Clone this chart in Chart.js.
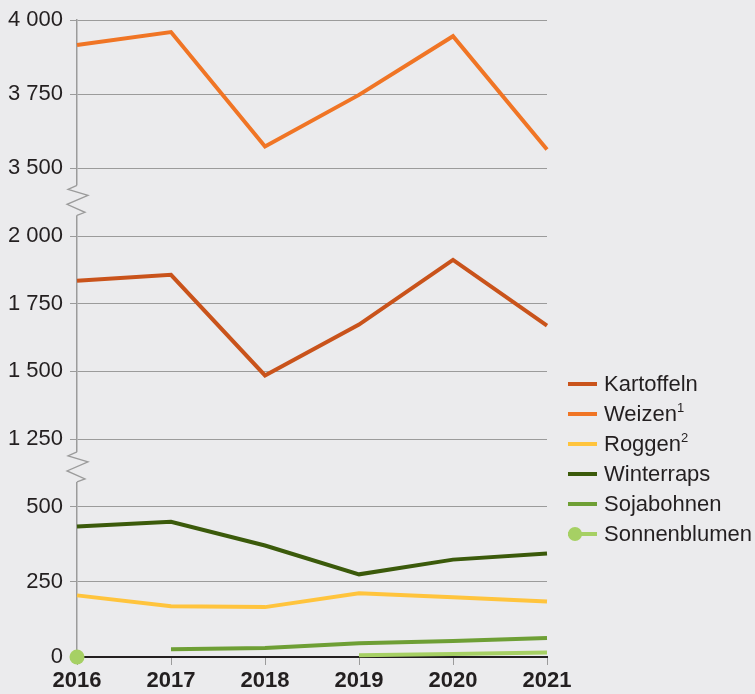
<!DOCTYPE html>
<html>
<head>
<meta charset="utf-8">
<script src="https://cdn.jsdelivr.net/npm/chart.js@4/dist/chart.umd.min.js"></script>
<style>
  body { margin: 0; background: #ebebed; font-family: "Liberation Sans", Arial, sans-serif; }
  #wrap { position: relative; width: 755px; height: 694px; }
  #legend { position: absolute; left: 568px; top: 369px; color: #231f20; font-size: 22px; }
  .item { height: 30px; display: flex; align-items: center; }
  .swatch { position: relative; width: 29px; height: 4px; margin-right: 7px; }
  .dot { position: absolute; left: 0; top: -5px; width: 14px; height: 14px; border-radius: 50%; }
  sup { font-size: 13px; line-height: 0; vertical-align: 9px; }
</style>
</head>
<body>
<div id="wrap">
  <canvas id="crops"></canvas>
  <div id="legend"></div>
</div>
<script>
const years = ['2016', '2017', '2018', '2019', '2020', '2021'];

const kartoffeln = [1835, 1857, 1485, 1673, 1912, 1669];
const weizen = [3916, 3960, 3574, 3748, 3946, 3564];
const roggen = [205, 169, 166, 212, 199, 185];
const winterraps = [434, 450, 371, 275, 324, 344];
const sojabohnen = [null, 26, 30, 46, 53, 63];
const sonnenblumen = [0, null, null, 6, 10, 15];

const topTicks = [3500, 3750, 4000];
const midTicks = [1250, 1500, 1750, 2000];
const lowTicks = [0, 250, 500];

const ink = '#231f20';
const gridGrey = '#9b9b9b';
const bg = '#ebebed';

function fmt(v) {
    return String(v).replace(/\B(?=(\d{3})+(?!\d))/g, ' ');
}

function yAxis(ticks, min, max, weight) {
    return {
        type: 'linear',
        position: 'left',
        stack: 'y',
        stackWeight: weight,
        min: min,
        max: max,
        afterBuildTicks: s => { s.ticks = ticks.map(v => ({ value: v })); },
        afterFit: s => { s.width = 77; },
        grid: { color: gridGrey, lineWidth: 1, tickLength: 7 },
        border: { color: gridGrey, width: 1.5 },
        ticks: {
            color: ink,
            padding: 7,
            font: { size: 22, family: '"Liberation Sans", Arial, sans-serif' },
            callback: v => fmt(v)
        }
    };
}

// zigzag marks where the value axis is broken
const axisBreaks = {
    id: 'axisBreaks',
    afterDraw(chart) {
        const ctx = chart.ctx;
        const x = chart.chartArea.left;
        [chart.scales.yTop.bottom, chart.scales.yMid.bottom].forEach(b => {
            ctx.save();
            ctx.fillStyle = bg;
            ctx.fillRect(x - 3, b - 16, 6, 30);
            ctx.strokeStyle = gridGrey;
            ctx.lineWidth = 1.3;
            ctx.beginPath();
            ctx.moveTo(x, b - 16);
            ctx.lineTo(x - 9, b - 12);
            ctx.lineTo(x + 11, b - 6);
            ctx.lineTo(x - 10, b + 3);
            ctx.lineTo(x + 8, b + 11);
            ctx.lineTo(x, b + 14);
            ctx.stroke();
            ctx.restore();
        });
    }
};

const series = [
    { label: 'Kartoffeln', data: kartoffeln, color: '#c9531b', axis: 'yMid' },
    { label: 'Weizen', note: '1', data: weizen, color: '#f07525', axis: 'yTop' },
    { label: 'Roggen', note: '2', data: roggen, color: '#ffc43d', axis: 'yLow' },
    { label: 'Winterraps', data: winterraps, color: '#3b5a0b', axis: 'yLow' },
    { label: 'Sojabohnen', data: sojabohnen, color: '#6e9f35', axis: 'yLow' },
    { label: 'Sonnenblumen', data: sonnenblumen, color: '#a6d064', axis: 'yLow', dot: true }
];

new Chart(document.getElementById('crops'), {
    type: 'line',
    data: {
        labels: years,
        datasets: series.map(s => ({
            label: s.label,
            data: s.data,
            yAxisID: s.axis,
            borderColor: s.color,
            backgroundColor: s.color,
            borderWidth: 4,
            pointRadius: s.dot ? [7.5, 0, 0, 0, 0, 0] : 0,
            pointBorderWidth: 0,
            tension: 0,
            clip: false
        }))
    },
    options: {
        responsive: true,
        maintainAspectRatio: false,
        animation: false,
        layout: { padding: { top: 17, right: 208, bottom: 0, left: 0 } },
        plugins: { legend: { display: false }, tooltip: { enabled: false } },
        scales: {
            x: {
                type: 'category',
                offset: false,
                afterFit: s => { s.height = 37; },
                grid: { drawOnChartArea: false, color: gridGrey, tickLength: 8 },
                border: { color: ink, width: 2 },
                ticks: {
                    color: ink,
                    padding: 3,
                    maxRotation: 0,
                    font: { size: 22, weight: 'bold', family: '"Liberation Sans", Arial, sans-serif' }
                }
            },
            // stacked axes are placed bottom-up in definition order
            yLow: yAxis(lowTicks, 0, 629, 190),
            yMid: yAxis(midTicks, 1143, 2129, 268),
            yTop: yAxis(topTicks, 3389, 4000, 182)
        }
    },
    plugins: [axisBreaks]
});

const legend = document.getElementById('legend');
series.forEach(s => {
    const row = document.createElement('div');
    row.className = 'item';
    const sw = document.createElement('div');
    sw.className = 'swatch';
    sw.style.background = s.color;
    if (s.dot) {
        const d = document.createElement('div');
        d.className = 'dot';
        d.style.background = s.color;
        sw.appendChild(d);
    }
    const txt = document.createElement('span');
    txt.textContent = s.label;
    if (s.note) {
        const sup = document.createElement('sup');
        sup.textContent = s.note;
        txt.appendChild(sup);
    }
    row.appendChild(sw);
    row.appendChild(txt);
    legend.appendChild(row);
});
</script>
</body>
</html>
